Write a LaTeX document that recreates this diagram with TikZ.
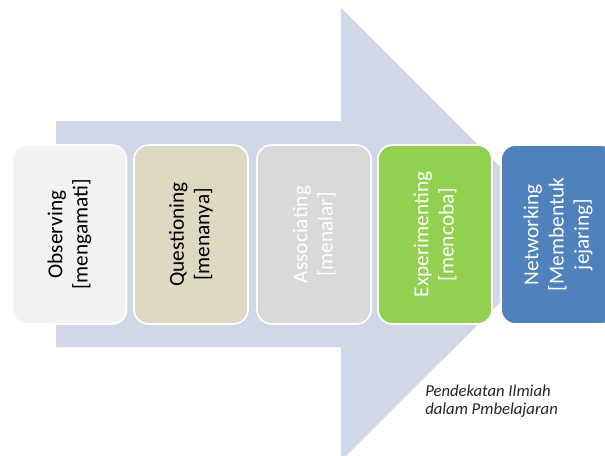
\documentclass[tikz,border=0pt]{standalone}
\usepackage{fontspec}
\setmainfont{Carlito}
\definecolor{arrowc}{RGB}{208,216,232}
\definecolor{obsc}{RGB}{242,242,242}
\definecolor{quesc}{RGB}{221,217,195}
\definecolor{assoc}{RGB}{217,217,217}
\definecolor{expc}{RGB}{146,208,80}
\definecolor{netc}{RGB}{79,129,189}
\begin{document}
\begin{tikzpicture}[x=0.75pt,y=-0.75pt,
  stagebox/.style={rectangle, rounded corners=11pt, draw=white, line width=1.2pt,
    rotate=90, minimum width=134.25pt, minimum height=85.5pt, align=center,
    font=\fontsize{16}{19}\selectfont, inner sep=0pt},
  caption/.style={font=\fontsize{12.5}{13.5}\selectfont\itshape, align=left, inner sep=0pt, text=black!85}]
\useasboundingbox (0,0) rectangle (605,455);
\clip (0,0) rectangle (605,455);
\fill[white] (0,0) rectangle (605,455);
% big arrow
\fill[arrowc] (56,121) -- (341,121) -- (341,8) -- (568,234.5) -- (341,461) -- (341,347) -- (56,347) -- cycle;
% stages
\node[stagebox, fill=obsc, text=black] (obs) at (69.5,234.5) {Observing\\{[}mengamati]};
\node[stagebox, fill=quesc, text=black] (ques) at (191,234.5) {Questioning\\{[}menanya]};
\node[stagebox, fill=assoc, text=white] (asso) at (314,234.5) {Associating\\{[}menalar]};
\node[stagebox, fill=expc, text=white] (expe) at (435,234.5) {Experimenting\\{[}mencoba]};
\node[stagebox, fill=netc, text=white] (netw) at (558,234.5) {Networking\\{[}Membentuk\\jejaring]};
% caption
\node[caption, anchor=north west] (cap) at (425,385) {Pendekatan Ilmiah\\dalam Pmbelajaran};
\end{tikzpicture}
\end{document}
